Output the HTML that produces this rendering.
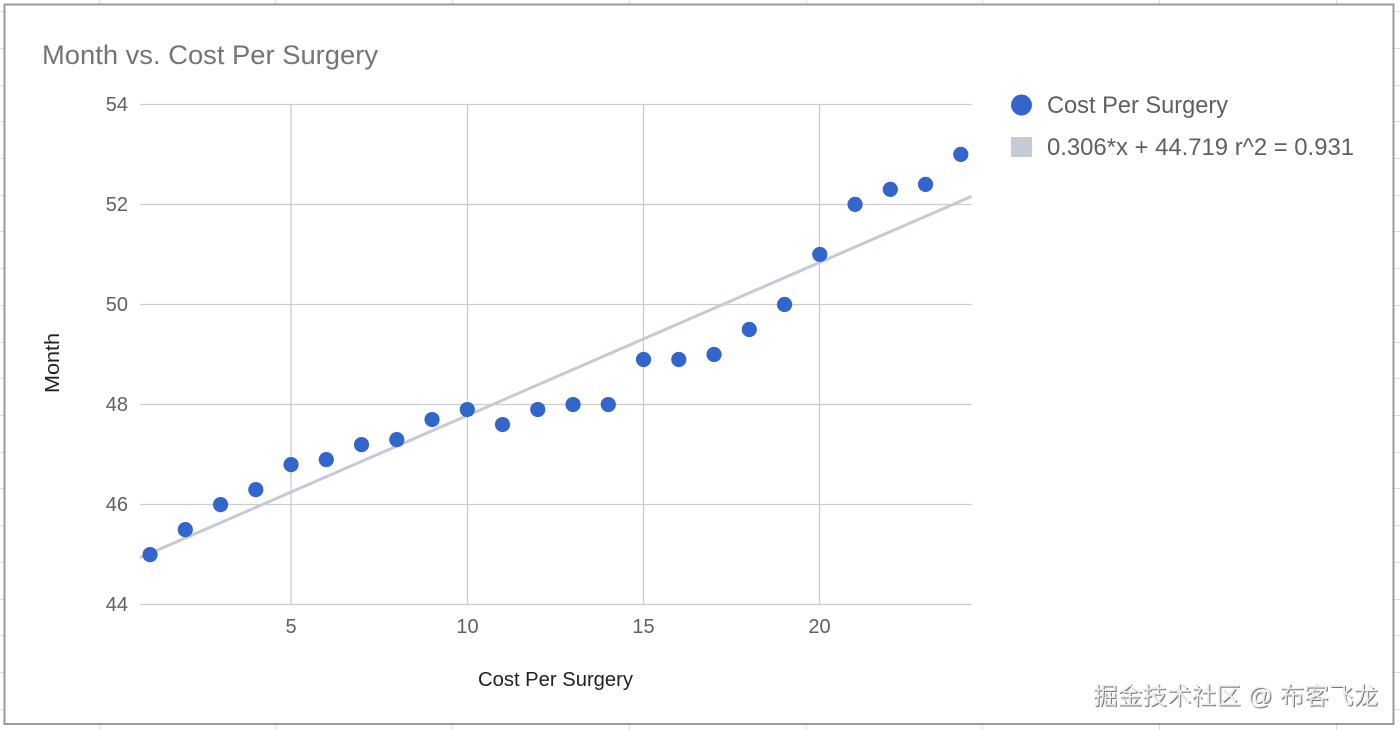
<!DOCTYPE html>
<html>
<head>
<meta charset="utf-8">
<style>
  html,body{margin:0;padding:0;background:#fff;}
  svg{display:block;}
  text{font-family:"Liberation Sans","Noto Sans CJK SC",sans-serif;}
</style>
</head>
<body>
<svg width="1400" height="730" viewBox="0 0 1400 730" xmlns="http://www.w3.org/2000/svg">
  <!-- spreadsheet background grid -->
  <g stroke="#dcdcdc" stroke-width="1">
    <line x1="99.5" y1="0" x2="99.5" y2="730"/>
    <line x1="275.5" y1="0" x2="275.5" y2="730"/>
    <line x1="452.5" y1="0" x2="452.5" y2="730"/>
    <line x1="629.5" y1="0" x2="629.5" y2="730"/>
    <line x1="806.5" y1="0" x2="806.5" y2="730"/>
    <line x1="982.5" y1="0" x2="982.5" y2="730"/>
    <line x1="1159.5" y1="0" x2="1159.5" y2="730"/>
    <line x1="1336.5" y1="0" x2="1336.5" y2="730"/>
    <line x1="0" y1="11.5" x2="1400" y2="11.5"/>
    <line x1="0" y1="48.5" x2="1400" y2="48.5"/>
    <line x1="0" y1="85.5" x2="1400" y2="85.5"/>
    <line x1="0" y1="121.5" x2="1400" y2="121.5"/>
    <line x1="0" y1="158.5" x2="1400" y2="158.5"/>
    <line x1="0" y1="195.5" x2="1400" y2="195.5"/>
    <line x1="0" y1="231.5" x2="1400" y2="231.5"/>
    <line x1="0" y1="268.5" x2="1400" y2="268.5"/>
    <line x1="0" y1="305.5" x2="1400" y2="305.5"/>
    <line x1="0" y1="342.5" x2="1400" y2="342.5"/>
    <line x1="0" y1="378.5" x2="1400" y2="378.5"/>
    <line x1="0" y1="415.5" x2="1400" y2="415.5"/>
    <line x1="0" y1="452.5" x2="1400" y2="452.5"/>
    <line x1="0" y1="488.5" x2="1400" y2="488.5"/>
    <line x1="0" y1="525.5" x2="1400" y2="525.5"/>
    <line x1="0" y1="562.5" x2="1400" y2="562.5"/>
    <line x1="0" y1="599.5" x2="1400" y2="599.5"/>
    <line x1="0" y1="635.5" x2="1400" y2="635.5"/>
    <line x1="0" y1="672.5" x2="1400" y2="672.5"/>
    <line x1="0" y1="709.5" x2="1400" y2="709.5"/>
  </g>

  <!-- chart frame -->
  <rect x="4.5" y="4.5" width="1389" height="719.5" fill="#ffffff" stroke="#9a9a9a" stroke-width="2"/>

  <!-- title -->
  <text x="42" y="64" font-size="27" fill="#757575" textLength="336" lengthAdjust="spacingAndGlyphs">Month vs. Cost Per Surgery</text>

  <!-- plot gridlines -->
  <g stroke="#cccccc" stroke-width="1.3">
    <line x1="140" y1="104.5" x2="971.5" y2="104.5"/>
    <line x1="140" y1="204.5" x2="971.5" y2="204.5"/>
    <line x1="140" y1="304.5" x2="971.5" y2="304.5"/>
    <line x1="140" y1="404.5" x2="971.5" y2="404.5"/>
    <line x1="140" y1="504.5" x2="971.5" y2="504.5"/>
    <line x1="140" y1="604.5" x2="971.5" y2="604.5"/>
    <line x1="291" y1="104.5" x2="291" y2="604.5"/>
    <line x1="467.5" y1="104.5" x2="467.5" y2="604.5"/>
    <line x1="643.5" y1="104.5" x2="643.5" y2="604.5"/>
    <line x1="819.5" y1="104.5" x2="819.5" y2="604.5"/>
  </g>

  <!-- y tick labels -->
  <g font-size="20" fill="#616161" text-anchor="end">
    <text x="128" y="111">54</text>
    <text x="128" y="211">52</text>
    <text x="128" y="311">50</text>
    <text x="128" y="411">48</text>
    <text x="128" y="511">46</text>
    <text x="128" y="611">44</text>
  </g>

  <!-- x tick labels -->
  <g font-size="20" fill="#616161" text-anchor="middle">
    <text x="291" y="633">5</text>
    <text x="467.5" y="633">10</text>
    <text x="643.5" y="633">15</text>
    <text x="819.5" y="633">20</text>
  </g>

  <!-- axis titles -->
  <text x="478" y="686" font-size="20" fill="#222222" textLength="155" lengthAdjust="spacingAndGlyphs">Cost Per Surgery</text>
  <text transform="translate(59,393) rotate(-90)" x="0" y="0" font-size="20" fill="#222222" textLength="60" lengthAdjust="spacingAndGlyphs">Month</text>

  <!-- trendline -->
  <line x1="140" y1="557.7" x2="971.5" y2="196.4" stroke="#c6cad8" stroke-width="3"/>

  <!-- data points -->
  <g fill="#3366cc">
    <circle cx="150.05" cy="554.66" r="7.6"/>
    <circle cx="185.3" cy="529.64" r="7.6"/>
    <circle cx="220.55" cy="504.62" r="7.6"/>
    <circle cx="255.8" cy="489.61" r="7.6"/>
    <circle cx="291.05" cy="464.59" r="7.6"/>
    <circle cx="326.3" cy="459.58" r="7.6"/>
    <circle cx="361.55" cy="444.57" r="7.6"/>
    <circle cx="396.8" cy="439.57" r="7.6"/>
    <circle cx="432.05" cy="419.55" r="7.6"/>
    <circle cx="467.3" cy="409.54" r="7.6"/>
    <circle cx="502.55" cy="424.56" r="7.6"/>
    <circle cx="537.8" cy="409.54" r="7.6"/>
    <circle cx="573.05" cy="404.54" r="7.6"/>
    <circle cx="608.3" cy="404.54" r="7.6"/>
    <circle cx="643.55" cy="359.5" r="7.6"/>
    <circle cx="678.8" cy="359.5" r="7.6"/>
    <circle cx="714.05" cy="354.5" r="7.6"/>
    <circle cx="749.3" cy="329.48" r="7.6"/>
    <circle cx="784.55" cy="304.46" r="7.6"/>
    <circle cx="819.8" cy="254.42" r="7.6"/>
    <circle cx="855.05" cy="204.38" r="7.6"/>
    <circle cx="890.3" cy="189.37" r="7.6"/>
    <circle cx="925.55" cy="184.36" r="7.6"/>
    <circle cx="960.8" cy="154.34" r="7.6"/>
  </g>

  <!-- legend -->
  <circle cx="1021.5" cy="105" r="10.5" fill="#3366cc"/>
  <text x="1047" y="113" font-size="24" fill="#5f5f5f" textLength="181" lengthAdjust="spacingAndGlyphs">Cost Per Surgery</text>
  <rect x="1011" y="137" width="21" height="20" fill="#c5cad9"/>
  <text x="1047" y="155" font-size="24" fill="#5f5f5f" textLength="307" lengthAdjust="spacingAndGlyphs">0.306*x + 44.719 r^2 = 0.931</text>

  <!-- watermark -->
  <text x="1094" y="705" font-size="24" fill="#555555" opacity="0.8" textLength="285" lengthAdjust="spacingAndGlyphs">掘金技术社区 @ 布客飞龙</text>
  <text x="1093" y="704" font-size="24" fill="#ececec" textLength="285" lengthAdjust="spacingAndGlyphs">掘金技术社区 @ 布客飞龙</text>
</svg>
</body>
</html>
